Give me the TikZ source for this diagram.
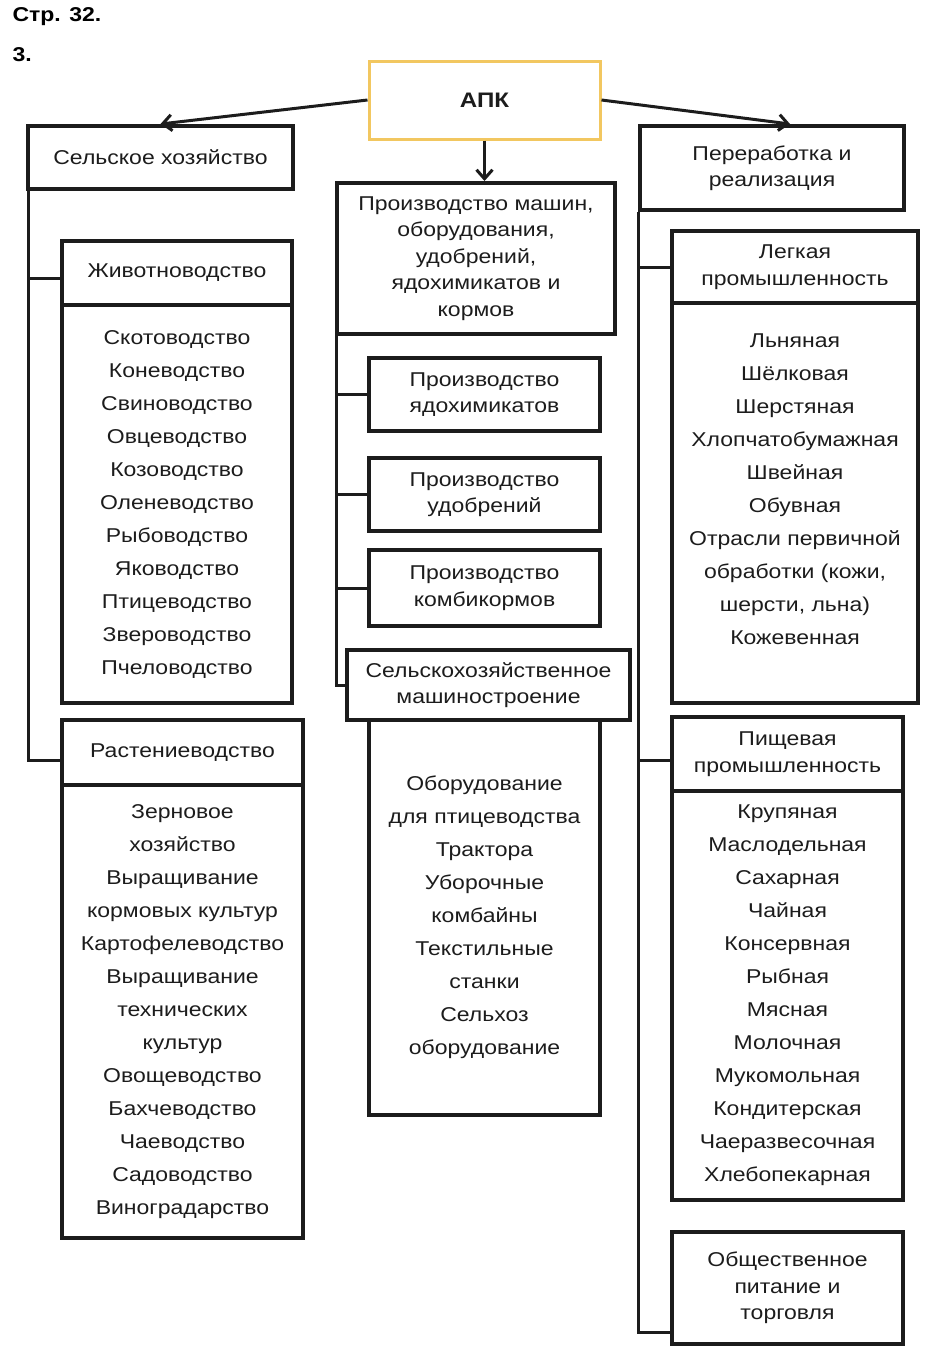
\documentclass[tikz,border=0pt]{standalone}
\usepackage{fontspec}
\setmainfont{Liberation Sans}[FakeStretch=1.15]
\usepackage{xcolor}
\usetikzlibrary{arrows.meta,positioning}
\definecolor{apkgold}{RGB}{242,199,96}
\definecolor{ink}{RGB}{28,28,28}

\tikzset{
  box/.style={draw=ink, line width=4pt, align=center, inner sep=0pt, text=ink,
    font=\fontsize{20}{26.5}\selectfont},
  listbox/.style={box, font=\fontsize{20}{33}\selectfont},
  link/.style={draw=ink, line width=3pt},
  arr/.style={link, -{Straight Barb[length=9pt,width=16pt]}},
}

\begin{document}
\begin{tikzpicture}[x=1pt,y=-1pt]
\useasboundingbox (0,0) rectangle (931,1369);
\node[anchor=west, font=\fontsize{20}{24}\selectfont\bfseries] (page) at (9,17) {Стр. 32.};
\node[anchor=west, font=\fontsize{20}{24}\selectfont\bfseries] (task) at (9,55) {3.};

% top level
\node[box, draw=apkgold, line width=3pt, minimum width=231, minimum height=78,
  font=\fontsize{21}{26}\selectfont\bfseries] (apk) at (484.5,100) {АПК};
\node[box, minimum width=265, minimum height=63] (selkhoz) at (160.5,157.5) {Сельское хозяйство};
\node[box, minimum width=264, minimum height=84] (pererab) at (772,168) {Переработка и\\реализация};
\node[box, minimum width=278, minimum height=151] (mashin) at (476,258.5)
  {Производство машин,\\оборудования,\\удобрений,\\ядохимикатов и\\кормов};

\draw[arr] (apk.west) -- (selkhoz.north);
\draw[arr] (apk.east) -- ([xshift=18]pererab.north);
\draw[arr] (apk.south) -- (apk.south |- mashin.north);

% left branch
\node[box, minimum width=230, minimum height=64] (zhiv) at (177,273) {Животноводство};
\node[listbox, minimum width=230, minimum height=398] (zhivlist) at (177,504)
  {Скотоводство\\Коневодство\\Свиноводство\\Овцеводство\\Козоводство\\Оленеводство\\Рыбоводство\\Яководство\\Птицеводство\\Звероводство\\Пчеловодство};
\node[box, minimum width=241, minimum height=65] (rast) at (182.5,752.5) {Растениеводство};
\node[listbox, minimum width=241, minimum height=453] (rastlist) at (182.5,1011.5)
  {Зерновое\\хозяйство\\Выращивание\\кормовых культур\\Картофелеводство\\Выращивание\\технических\\культур\\Овощеводство\\Бахчеводство\\Чаеводство\\Садоводство\\Виноградарство};
\draw[link] ([xshift=2]selkhoz.south west) |- ([yshift=-5]zhiv.west);
\draw[link] ([xshift=2]selkhoz.south west) |- ([yshift=-8]rast.west);

% middle branch
\node[box, minimum width=231, minimum height=73] (yadokh) at (484.5,394.5) {Производство\\ядохимикатов};
\node[box, minimum width=231, minimum height=73] (udobr) at (484.5,494.5) {Производство\\удобрений};
\node[box, minimum width=231, minimum height=76] (kombi) at (484.5,588) {Производство\\комбикормов};
\node[listbox, minimum width=231, minimum height=395] (mashlist) at (484.5,917.5)
  {Оборудование\\для птицеводства\\Трактора\\Уборочные\\комбайны\\Текстильные\\станки\\Сельхоз\\оборудование};
\node[box, fill=white, minimum width=283, minimum height=70] (selmash) at (488.5,685) {Сельскохозяйственное\\машиностроение};
\foreach \n in {yadokh,udobr,kombi,selmash}
  \draw[link] ([xshift=1]mashin.south west) |- (\n.west);

% right branch
\node[box, minimum width=246, minimum height=72] (legk) at (795,267) {Легкая\\промышленность};
\node[listbox, minimum width=246, minimum height=400] (legklist) at (795,503)
  {Льняная\\Шёлковая\\Шерстяная\\Хлопчатобумажная\\Швейная\\Обувная\\Отрасли первичной\\обработки (кожи,\\шерсти, льна)\\Кожевенная\\[-16pt] \strut};
\node[box, minimum width=231, minimum height=74] (pishch) at (787.5,754) {Пищевая\\промышленность};
\node[listbox, minimum width=231, minimum height=409] (pishchlist) at (787.5,995.5)
  {Крупяная\\Маслодельная\\Сахарная\\Чайная\\Консервная\\Рыбная\\Мясная\\Молочная\\Мукомольная\\Кондитерская\\Чаеразвесочная\\Хлебопекарная};
\node[box, minimum width=231, minimum height=112] (obshch) at (787.5,1288) {Общественное\\питание и\\торговля};
\draw[link] (pererab.south west) |- (legk.west);
\draw[link] (pererab.south west) |- ([yshift=-6]pishch.west);
\draw[link] (pererab.south west) |- ([yshift=-44]obshch.west);
\end{tikzpicture}
\end{document}
